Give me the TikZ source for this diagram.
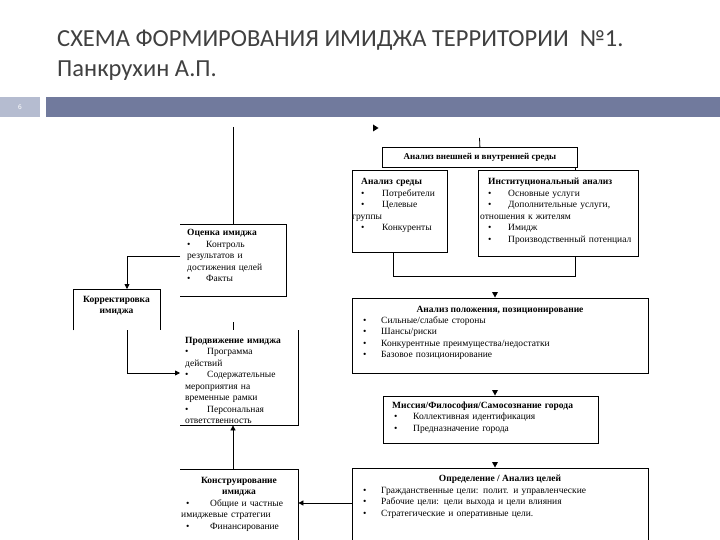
\documentclass[tikz,border=0pt]{standalone}
\usepackage{fontspec}
\setmainfont{Liberation Serif}
\newfontfamily\titlefont{Carlito}
\usetikzlibrary{arrows.meta}
\definecolor{titlegray}{HTML}{404040}
\definecolor{banddark}{HTML}{717A9D}
\definecolor{bandlight}{HTML}{B5BCD0}
\newcommand{\bl}[1]{\makebox[#1][l]{\textbullet}}
\begin{document}
\begin{tikzpicture}[x=1pt,y=-1pt,
  edge/.style={line width=0.8pt},
  tipend/.style={-{Triangle[length=5pt,width=5pt]}},
  body/.style={inner sep=0pt, anchor=base west, align=left, font=\fontsize{9.5}{11.5}\selectfont},
  frame/.style={draw, line width=0.8pt, inner sep=0pt, anchor=north west},
  shell/.style={inner sep=0pt, anchor=north west}]
\useasboundingbox (0,0) rectangle (720,540);
\fill[white] (0,0) rectangle (720,540);
% title
\node[anchor=base west, inner sep=0pt, text=titlegray, font=\titlefont\fontsize{24.5}{28}\selectfont] (title1) at (57,47) {СХЕМА ФОРМИРОВАНИЯ ИМИДЖА ТЕРРИТОРИИ \ №1.};
\node[anchor=base west, inner sep=0pt, text=titlegray, font=\titlefont\fontsize{24.5}{28}\selectfont] (title2) at (57,77) {Панкрухин А.П.};
% band
\fill[bandlight] (0,97) rectangle (40,117);
\fill[banddark] (46,97) rectangle (720,117);
\node[text=white, font=\sffamily\fontsize{7}{8}\selectfont, inner sep=0pt] (pnum) at (20,107) {6};
% boxes
\node[frame, minimum width=195pt, minimum height=20pt] (env) at (382,147) {};
\node[inner sep=0pt, font=\bfseries\fontsize{9}{11}\selectfont] (envt) at (env.center) {Анализ внешней и внутренней среды};
\node[frame, minimum width=95pt, minimum height=82pt] (sreda) at (352,170) {};
\node[frame, minimum width=160pt, minimum height=86pt] (inst) at (478,170) {};
\node[frame, minimum width=296pt, minimum height=75pt] (polozh) at (352,298) {};
\node[frame, minimum width=215pt, minimum height=47pt] (missia) at (383,396) {};
\node[shell, minimum width=106pt, minimum height=72pt] (ozenka) at (180,224) {};
\node[shell, minimum width=87pt, minimum height=41pt] (korr) at (73,289) {};
\node[shell, minimum width=118pt, minimum height=95pt] (prod) at (180,330) {};
\node[shell, minimum width=118pt, minimum height=80pt] (konstr) at (180,469) {};
\node[shell, minimum width=296pt, minimum height=80pt] (opred) at (352,468) {};
% open frames
\draw[edge] (ozenka.north west) -- (ozenka.north east) -- (ozenka.south east) -- (ozenka.south west);
\draw[edge] (korr.south west) -- (korr.north west) -- (korr.north east) -- (korr.south east);
\draw[edge] (prod.north east) -- (prod.south east) -- (prod.south west);
\draw[edge] (konstr.north west) -- (konstr.north east) -- (konstr.south east);
\draw[edge] (opred.south west) -- (opred.north west) -- (opred.north east) -- (opred.south east);
% texts
\node[body, text width=85pt] (sredat) at (361,185) {\textbf{Анализ среды}\\
\bl{21pt}Потребители\\
\bl{21pt}Целевые\\
\hspace*{-9pt}группы\\
\bl{21pt}Конкуренты};
\node[body, text width=150pt] (instt) at (488,185) {\textbf{Институциональный анализ}\\
\bl{20pt}Основные услуги\\
\bl{20pt}Дополнительные услуги,\\
\hspace*{-8pt}отношения к жителям\\
\bl{20pt}Имидж\\
\bl{20pt}Производственный потенциал};
\node[body, text width=100pt] (ozenkat) at (187,236) {\textbf{Оценка имиджа}\\
\bl{19pt}Контроль\\
результатов и\\
достижения целей\\
\bl{19pt}Факты};
\node[body, anchor=base, align=center, text width=87pt] (korrt) at (116.5,302) {\textbf{Корректировка}\\\textbf{имиджа}};
\node[body, text width=115pt] (prodt) at (185,343) {\textbf{Продвижение имиджа}\\
\bl{22pt}Программа\\
действий\\
\bl{22pt}Содержательные\\
мероприятия на\\
временные рамки\\
\bl{22pt}Персональная\\
ответственность};
\node[body, anchor=base, inner sep=0pt] (polozhh) at (500,312) {\textbf{Анализ положения, позиционирование}};
\node[body, text width=280pt] (polozht) at (363,323) {\bl{18pt}Сильные/слабые стороны\\
\bl{18pt}Шансы/риски\\
\bl{18pt}Конкурентные преимущества/недостатки\\
\bl{18pt}Базовое позиционирование};
\node[body, text width=210pt] (missiat) at (392,408) {\textbf{Миссия/Философия/Самосознание города}\\
\hspace*{2pt}\bl{19pt}Коллективная идентификация\\
\hspace*{2pt}\bl{19pt}Предназначение города};
\node[body, anchor=base, align=center, text width=118pt] (konstrh) at (239,483) {\textbf{Конструирование}\\\textbf{имиджа}};
\node[body, text width=118pt] (konstrt) at (186,506) {\bl{24pt}Общие и частные\\
\hspace*{-5pt}имиджевые стратегии\\
\bl{24pt}Финансирование};
\node[body, anchor=base, inner sep=0pt] (opredh) at (500,481) {\textbf{Определение / Анализ целей}};
\node[body, text width=280pt] (opredt) at (363,493) {\bl{18pt}Гражданственные цели: полит. и управленческие\\
\bl{18pt}Рабочие цели: цели выхода и цели влияния\\
\bl{18pt}Стратегические и оперативные цели.};
% connectors
\coordinate (c1) at (233,127);
\draw[edge] (c1) -- (c1 |- ozenka.north);
\fill (373,124.5) -- (378.5,128) -- (373,131.5) -- cycle;
\coordinate (c2) at (479.5,138);
\draw[edge] (c2) -- (env.north);
\draw[edge] (env.south east -| 575,0) -- (inst.north -| 575,0);
\coordinate (j1) at (393,276);
\coordinate (j2) at (575,276);
\draw[edge] (sreda.south -| j1) -- (j1) -- (j2) -- (inst.south -| j2);
\coordinate (a1) at (495,298);
\coordinate (a2) at (495,396);
\coordinate (a3) at (495,468);
\foreach \p in {a1,a2,a3}{\fill ([xshift=-3pt,yshift=6pt]\p) -- ([xshift=3pt,yshift=6pt]\p) -- ([yshift=0.5pt]\p) -- cycle;}
\coordinate (k1) at (127,256);
\coordinate (k2) at (127,373);
\draw[edge,tipend] (k1 -| ozenka.west) -- (k1) -- (k1 |- korr.north);
\draw[edge,tipend] (k2 |- korr.south) -- (k2) -- (k2 -| prod.west);
\draw[edge] ([yshift=8pt]prod.north -| c1) -- (prod.north -| c1);
\draw[edge,tipend] (konstr.north -| c1) -- (prod.south -| c1);
\draw[edge,tipend] ([yshift=-35pt]opred.north west) -- ([yshift=-34pt]konstr.north east);
\end{tikzpicture}
\end{document}
